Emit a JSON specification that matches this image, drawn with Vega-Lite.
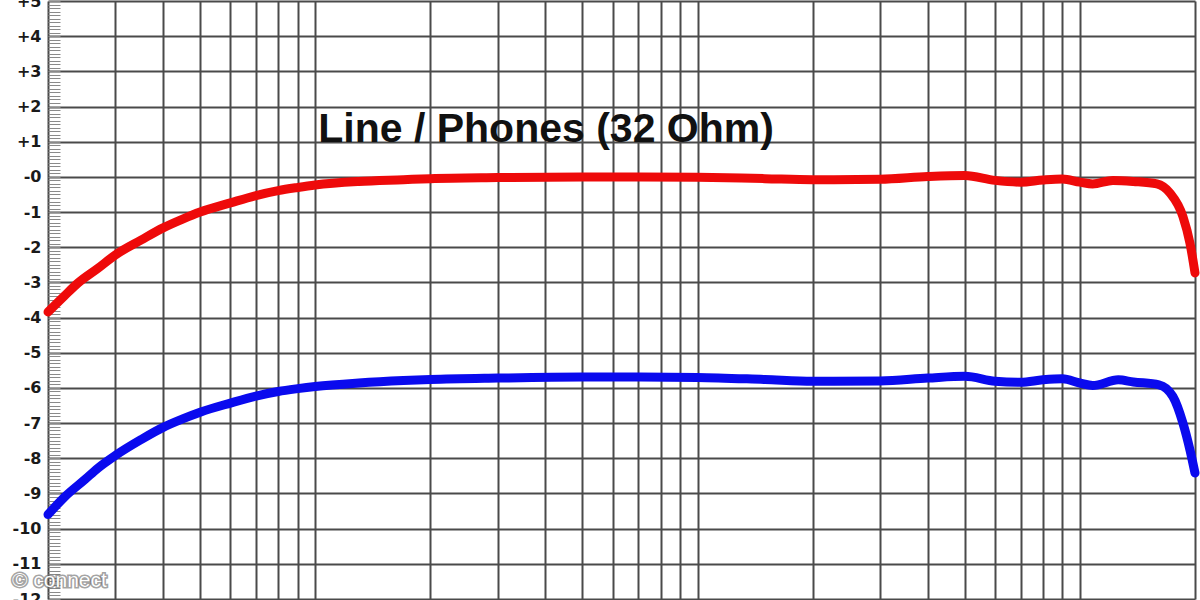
{
  "$schema": "https://vega.github.io/schema/vega-lite/v6.json",
  "width": 1147,
  "height": 598,
  "autosize": {"type": "none"},
  "padding": {"left": 48, "top": 1, "right": 5, "bottom": 1},
  "background": "white",
  "config": {
    "view": {"stroke": null},
    "axisX": {
      "values": [20, 30, 40, 50, 60, 70, 80, 90, 100, 200, 300, 400, 500, 600, 700, 800, 900, 1000, 2000, 3000, 4000, 5000, 6000, 7000, 8000, 9000, 10000, 20000],
      "grid": true, "gridColor": "#4a4a4a", "gridWidth": 2, "gridOpacity": 1,
      "labels": false, "ticks": false, "domain": false, "title": null
    }
  },
  "datasets": {
    "curves": [
      {"channel": "L", "freq": 20, "db": -3.84},
      {"channel": "L", "freq": 22, "db": -3.4},
      {"channel": "L", "freq": 24, "db": -3.01},
      {"channel": "L", "freq": 27, "db": -2.6},
      {"channel": "L", "freq": 30, "db": -2.22},
      {"channel": "L", "freq": 35, "db": -1.8},
      {"channel": "L", "freq": 40, "db": -1.45},
      {"channel": "L", "freq": 45, "db": -1.2},
      {"channel": "L", "freq": 50, "db": -1.0},
      {"channel": "L", "freq": 60, "db": -0.74},
      {"channel": "L", "freq": 70, "db": -0.53},
      {"channel": "L", "freq": 80, "db": -0.39},
      {"channel": "L", "freq": 90, "db": -0.3},
      {"channel": "L", "freq": 100, "db": -0.23},
      {"channel": "L", "freq": 130, "db": -0.13},
      {"channel": "L", "freq": 170, "db": -0.08},
      {"channel": "L", "freq": 200, "db": -0.05},
      {"channel": "L", "freq": 300, "db": -0.02},
      {"channel": "L", "freq": 500, "db": 0.0},
      {"channel": "L", "freq": 700, "db": 0.0},
      {"channel": "L", "freq": 1000, "db": -0.01},
      {"channel": "L", "freq": 1500, "db": -0.05},
      {"channel": "L", "freq": 2000, "db": -0.08},
      {"channel": "L", "freq": 3000, "db": -0.07},
      {"channel": "L", "freq": 4000, "db": 0.01},
      {"channel": "L", "freq": 5000, "db": 0.04},
      {"channel": "L", "freq": 6000, "db": -0.1},
      {"channel": "L", "freq": 7000, "db": -0.15},
      {"channel": "L", "freq": 8000, "db": -0.09},
      {"channel": "L", "freq": 9000, "db": -0.06},
      {"channel": "L", "freq": 10000, "db": -0.15},
      {"channel": "L", "freq": 10800, "db": -0.2},
      {"channel": "L", "freq": 12200, "db": -0.1},
      {"channel": "L", "freq": 13800, "db": -0.13},
      {"channel": "L", "freq": 15900, "db": -0.2},
      {"channel": "L", "freq": 17200, "db": -0.46},
      {"channel": "L", "freq": 18600, "db": -1.13},
      {"channel": "L", "freq": 19400, "db": -1.88},
      {"channel": "L", "freq": 20000, "db": -2.73},
      {"channel": "R", "freq": 20, "db": -9.6},
      {"channel": "R", "freq": 22, "db": -9.12},
      {"channel": "R", "freq": 25, "db": -8.6},
      {"channel": "R", "freq": 27, "db": -8.28},
      {"channel": "R", "freq": 30, "db": -7.92},
      {"channel": "R", "freq": 35, "db": -7.47},
      {"channel": "R", "freq": 40, "db": -7.12},
      {"channel": "R", "freq": 45, "db": -6.88},
      {"channel": "R", "freq": 50, "db": -6.69},
      {"channel": "R", "freq": 60, "db": -6.43},
      {"channel": "R", "freq": 70, "db": -6.23},
      {"channel": "R", "freq": 80, "db": -6.1},
      {"channel": "R", "freq": 90, "db": -6.02},
      {"channel": "R", "freq": 100, "db": -5.96},
      {"channel": "R", "freq": 130, "db": -5.86},
      {"channel": "R", "freq": 170, "db": -5.79},
      {"channel": "R", "freq": 200, "db": -5.76},
      {"channel": "R", "freq": 300, "db": -5.72},
      {"channel": "R", "freq": 500, "db": -5.69},
      {"channel": "R", "freq": 700, "db": -5.69},
      {"channel": "R", "freq": 1000, "db": -5.7},
      {"channel": "R", "freq": 1500, "db": -5.76},
      {"channel": "R", "freq": 2000, "db": -5.81},
      {"channel": "R", "freq": 3000, "db": -5.8},
      {"channel": "R", "freq": 4000, "db": -5.72},
      {"channel": "R", "freq": 5000, "db": -5.67},
      {"channel": "R", "freq": 6000, "db": -5.81},
      {"channel": "R", "freq": 7000, "db": -5.84},
      {"channel": "R", "freq": 8000, "db": -5.77},
      {"channel": "R", "freq": 9000, "db": -5.74},
      {"channel": "R", "freq": 10000, "db": -5.86},
      {"channel": "R", "freq": 10800, "db": -5.93},
      {"channel": "R", "freq": 12600, "db": -5.77},
      {"channel": "R", "freq": 13800, "db": -5.83},
      {"channel": "R", "freq": 16100, "db": -5.91},
      {"channel": "R", "freq": 17500, "db": -6.24},
      {"channel": "R", "freq": 18600, "db": -7.0},
      {"channel": "R", "freq": 19400, "db": -7.76},
      {"channel": "R", "freq": 20000, "db": -8.42}
    ]
  },
  "layer": [
    {
      "data": {"name": "curves"},
      "mark": {"type": "point", "opacity": 0},
      "encoding": {
        "x": {"field": "freq", "type": "quantitative", "scale": {"type": "log", "domain": [20, 20000], "nice": false}},
        "y": {
          "field": "db", "type": "quantitative",
          "scale": {"domain": [-12, 5], "nice": false, "zero": false},
          "axis": {
            "orient": "right", "offset": -1147, "tickCount": 170, "tickSize": 12, "tickWidth": 1,
            "tickColor": "#8a8a8a", "labels": false, "grid": false, "domain": false, "title": null
          }
        }
      }
    },
    {
      "data": {"name": "curves"},
      "mark": {"type": "line", "strokeWidth": 9, "interpolate": "monotone", "strokeCap": "round", "strokeJoin": "round"},
      "encoding": {
        "x": {"field": "freq", "type": "quantitative", "scale": {"type": "log", "domain": [20, 20000], "nice": false}},
        "y": {
          "field": "db", "type": "quantitative",
          "scale": {"domain": [-12, 5], "nice": false, "zero": false},
          "axis": {
            "orient": "left",
            "values": [-12, -11, -10, -9, -8, -7, -6, -5, -4, -3, -2, -1, 0, 1, 2, 3, 4, 5],
            "grid": true, "gridColor": "#4a4a4a", "gridWidth": 2, "gridOpacity": 1,
            "ticks": false, "domain": false, "title": null,
            "labelExpr": "datum.value > 0 ? '+' + datum.value : (datum.value == 0 ? '-0' : '-' + abs(datum.value))",
            "labelFont": "DejaVu Sans", "labelFontWeight": "bold", "labelFontSize": 16,
            "labelColor": "#1a1a1a", "labelPadding": 7
          }
        },
        "color": {
          "field": "channel", "type": "nominal",
          "scale": {"domain": ["L", "R"], "range": ["#ee0a0a", "#0a0aee"]},
          "legend": null
        }
      }
    },
    {
      "data": {"values": [{"label": "Line / Phones (32 Ohm)", "freq": 100, "db": 1}]},
      "mark": {"type": "text", "align": "left", "baseline": "alphabetic", "dx": 3, "font": "Liberation Sans", "fontWeight": "bold", "fontSize": 41, "color": "#111111"},
      "encoding": {
        "x": {"field": "freq", "type": "quantitative", "scale": {"type": "log", "domain": [20, 20000], "nice": false}},
        "y": {"field": "db", "type": "quantitative", "scale": {"domain": [-12, 5], "nice": false, "zero": false}, "axis": null},
        "text": {"field": "label"}
      }
    },
    {
      "data": {"values": [{"label": "© connect", "freq": 20, "db": -11.48}]},
      "mark": {"type": "text", "align": "left", "baseline": "middle", "dx": -36, "font": "Liberation Sans", "fontSize": 21, "stroke": "#666666", "strokeWidth": 3, "strokeOpacity": 0.6, "color": "#666666"},
      "encoding": {
        "x": {"field": "freq", "type": "quantitative", "scale": {"type": "log", "domain": [20, 20000], "nice": false}},
        "y": {"field": "db", "type": "quantitative", "scale": {"domain": [-12, 5], "nice": false, "zero": false}, "axis": null},
        "text": {"field": "label"}
      }
    },
    {
      "data": {"values": [{"label": "© connect", "freq": 20, "db": -11.48}]},
      "mark": {"type": "text", "align": "left", "baseline": "middle", "dx": -36, "font": "Liberation Sans", "fontSize": 21, "color": "#ffffff"},
      "encoding": {
        "x": {"field": "freq", "type": "quantitative", "scale": {"type": "log", "domain": [20, 20000], "nice": false}},
        "y": {"field": "db", "type": "quantitative", "scale": {"domain": [-12, 5], "nice": false, "zero": false}, "axis": null},
        "text": {"field": "label"}
      }
    }
  ],
  "resolve": {"axis": {"y": "independent"}}
}
